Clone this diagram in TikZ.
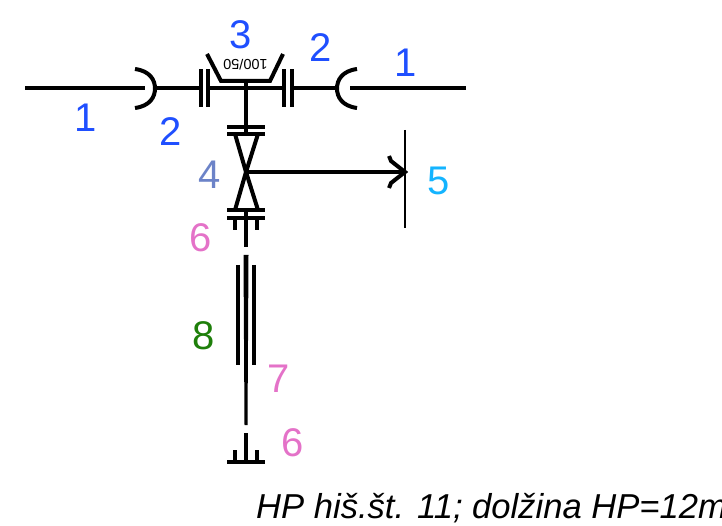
\documentclass[tikz,border=0pt]{standalone}
\usepackage{fontspec}
\setmainfont{Liberation Sans}
\definecolor{cblue}{HTML}{1F4FFF}
\definecolor{cslate}{HTML}{6C83C8}
\definecolor{ccyan}{HTML}{14B4FF}
\definecolor{cpink}{HTML}{E472C8}
\definecolor{cgreen}{HTML}{1E7F0A}
\tikzset{
  pipe/.style={line width=4pt,black},
  wall/.style={line width=1.8pt,black},
  flange/.style={line width=4pt,black},
  num/.style={font=\fontsize{40}{40}\selectfont,inner sep=0pt},
}
\begin{document}
\begin{tikzpicture}[x=1pt,y=-1pt]
\useasboundingbox (0,0) rectangle (722,526);
% named points
\coordinate (L0) at (25,88.5);
\coordinate (L1) at (145,88.5);
\coordinate (R0) at (466,88.5);
\coordinate (R1) at (350,88.5);
\coordinate (CL) at (155,88.5);
\coordinate (CR) at (337,88.5);
\coordinate (FL1) at (201,88.5);
\coordinate (FL2) at (208,88.5);
\coordinate (FR1) at (284,88.5);
\coordinate (FR2) at (292,88.5);
\coordinate (T0) at (246,81);
\coordinate (T1) at (246,127);
\coordinate (V) at (246,172);
\coordinate (Tip) at (405,172);
% main pipes
\draw[pipe] (L0) -- (L1);
\draw[pipe] (R0) -- (R1);
\draw[pipe] (CL) -- (FL1);
\draw[pipe] (FL2) -- (FR1);
\draw[pipe] (FR2) -- (CR);
% caps
\draw[pipe] (135,69) .. controls (150,71) and (155,80) .. (CL) .. controls (155,97) and (150,106) .. (135,108);
\draw[pipe] (357,69) .. controls (342,71) and (337,80) .. (CR) .. controls (337,97) and (342,106) .. (357,108);
% flanges on the main
\foreach \p in {FL1,FL2,FR1,FR2}{
  \draw[flange] (\p) ++(0,-19) -- ++(0,38);
}
% reducer
\draw[pipe] (207,54) -- (221,81) -- (270,81) -- (283,54);
\node[inner sep=0pt,rotate=180,font=\fontsize{14.5}{14.5}\selectfont] (red) at (245.5,65) {100/50};
\draw[pipe] (T0) -- (T1);
% valve flanges
\draw[flange] (227,127) -- (265,127);
\draw[flange] (227,134) -- (265,134);
\draw[flange] (227,210) -- (265,210);
\draw[flange] (227,218) -- (265,218);
\draw[pipe] (246,127) -- (246,134);
\draw[pipe] (246,210) -- (246,218);
% valve
\draw[pipe] (235,134) -- (V) -- (258,134);
\draw[pipe] (235,210) -- (V) -- (258,210);
% branch
\draw[pipe] (V) -- (Tip);
\draw[pipe] (389,156) -- (391,161) -- (Tip) -- (391,183) -- (389,188);
\draw[wall] (405,130) -- (405,228);
% under the valve
\draw[pipe] (235,218) -- (235,230);
\draw[pipe] (257,218) -- (257,230);
\draw[pipe] (246,218) -- (246,247);
% riser, tapering downwards
\fill[black] (243.5,255) -- (248.5,255) -- (247.5,425) -- (244.5,425) -- cycle;
\draw[pipe] (238,265) -- (238,365);
\draw[pipe] (253.5,265) -- (253.5,365);
% end
\draw[pipe] (246,433) -- (246,462);
\draw[pipe] (235,450) -- (235,462);
\draw[pipe] (257,450) -- (257,462);
\draw[flange] (227,462) -- (265,462);
% labels
\node[num,text=cblue] (n1a) at (86,118) {1};
\node[num,text=cblue] (n2a) at (171,132) {2};
\node[num,text=cblue] (n3) at (241,35) {3};
\node[num,text=cblue] (n2b) at (321,48) {2};
\node[num,text=cblue] (n1b) at (406,63) {1};
\node[num,text=cslate] (n4) at (210,175) {4};
\node[num,text=ccyan] (n5) at (439,181) {5};
\node[num,text=cpink] (n6a) at (201,238) {6};
\node[num,text=cgreen] (n8) at (204,336) {8};
\node[num,text=cpink] (n7) at (279,379) {7};
\node[num,text=cpink] (n6b) at (293,443) {6};
\node[anchor=base west,inner sep=0pt,font=\fontsize{34.6}{34.6}\selectfont\itshape] (cap) at (256,518) {HP hiš.št. 11; dolžina HP=12m};
\end{tikzpicture}
\end{document}
